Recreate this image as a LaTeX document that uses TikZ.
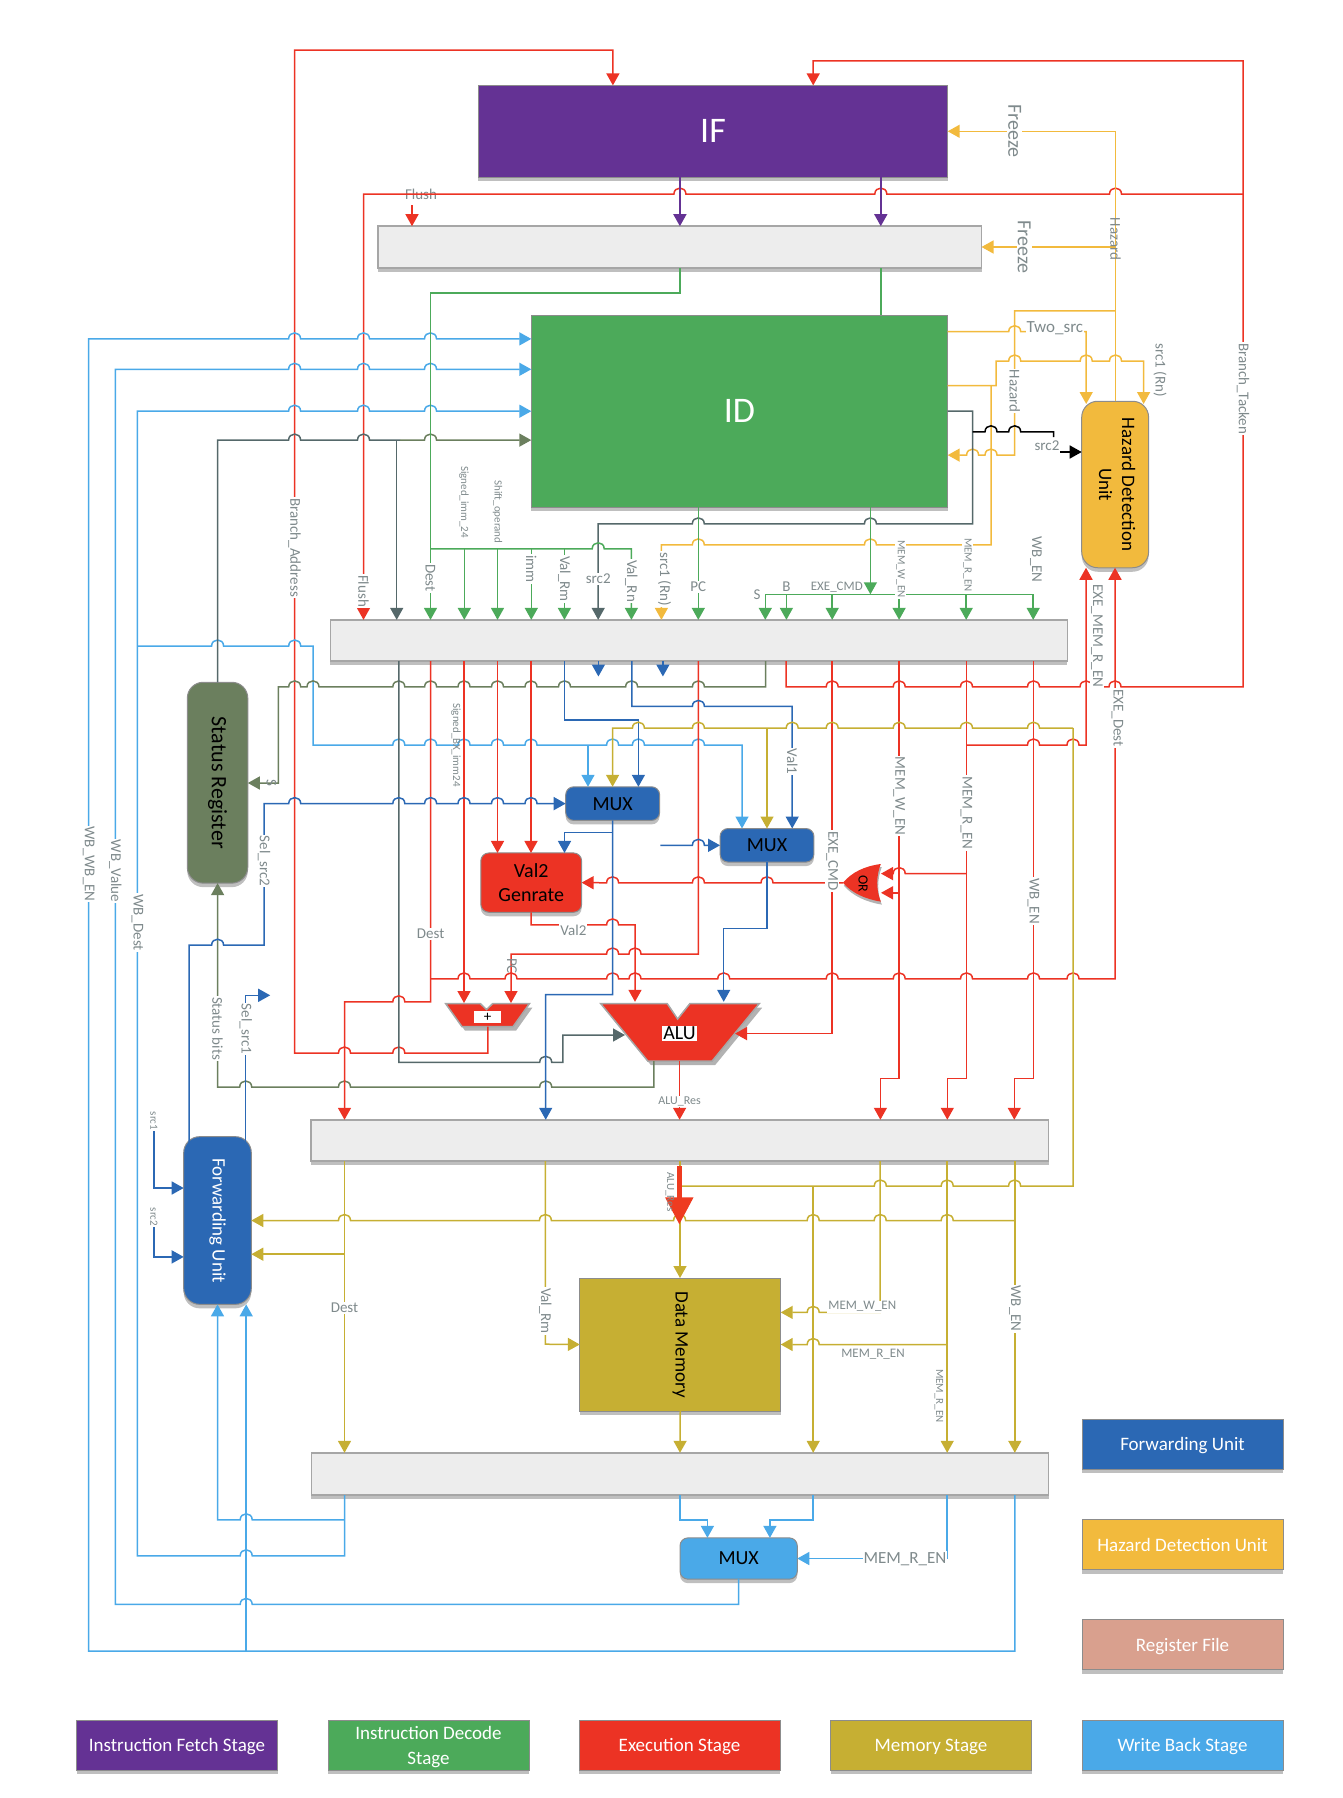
\documentclass[tikz,border=0pt]{standalone}
\usepackage{fontspec}
\setmainfont{Carlito}
\usetikzlibrary{arrows.meta, shadows, positioning}
\definecolor{cpurple}{HTML}{643294}
\definecolor{cgreen}{HTML}{4CAA5A}
\definecolor{cred}{HTML}{EC3324}
\definecolor{cgold}{HTML}{C6AF33}
\definecolor{clight}{HTML}{4AA9E8}
\definecolor{cblue}{HTML}{2B68B4}
\definecolor{camber}{HTML}{F2BA3D}
\definecolor{csage}{HTML}{6B7F5E}
\definecolor{cdark}{HTML}{55686A}
\definecolor{csalmon}{HTML}{D9A08E}
\definecolor{clab}{HTML}{7F8A8C}
% a hop of a horizontal wire over a vertical one
\newcommand{\hopr}[2]{\foreach \h in {#2} { -- (\h-6,#1) .. controls (\h-6,#1-8) and (\h+6,#1-8) .. (\h+6,#1) }}
\newcommand{\hopl}[2]{\foreach \h in {#2} { -- (\h+6,#1) .. controls (\h+6,#1-8) and (\h-6,#1-8) .. (\h-6,#1) }}
\newcommand{\rot}[1]{\rotatebox{-90}{#1}}
\tikzset{
  shade3/.style={drop shadow={shadow xshift=0pt,shadow yshift=-4pt,opacity=.25,fill=black}},
  unit/.style={shape=rectangle, inner sep=0pt, outer sep=0pt, line width=1pt, draw=black!45, shade3},
  pipe/.style={unit, fill=black!7, draw=black!35, line width=1.5pt},
  pill/.style={unit, rounded corners=16pt, font=\fontsize{19}{23}\selectfont},
  muxbox/.style={unit, rounded corners=8pt, fill=cblue, text depth=0pt, font=\fontsize{20}{24}\selectfont},
  legend/.style={unit, minimum width=201pt, minimum height=50pt, text=white, align=center, text depth=0pt, font=\fontsize{19}{25}\selectfont},
  lab/.style={fill=white, inner sep=1pt, text=clab, font=\fontsize{15}{17}\selectfont},
  tiny/.style={lab, font=\fontsize{11}{13}\selectfont},
  free/.style={fill=none},
  wire/.style={line width=1.5pt},
  wred/.style={wire, cred},
  wgold/.style={wire, cgold},
  wlight/.style={wire, clight},
  wblue/.style={wire, cblue},
  wamber/.style={wire, camber},
  wsage/.style={wire, csage},
  wdark/.style={wire, cdark},
  wgreen/.style={wire, cgreen},
  wpurple/.style={wire, cpurple},
  trap/.style={fill=cred, draw=black!35, line width=1.5pt, drop shadow={shadow xshift=3pt,shadow yshift=-4pt,opacity=.3,fill=black}},
}
\begin{document}
\begin{tikzpicture}[x=1pt, y=-1pt, >={Triangle[length=12pt,width=13pt]}]
\useasboundingbox (0,0) rectangle (1342,1798);
% stages
\node[unit, fill=cpurple, minimum width=469.4pt, minimum height=92pt, text=white, font=\fontsize{36}{40}\selectfont] (ifbox) at (713,131.4) {IF};
\node[pipe, minimum width=603.3pt, minimum height=41.9pt] (ifid) at (679.85,247.15) {};
\node[unit, fill=cgreen, minimum width=416.4pt, minimum height=192.2pt, text=white, font=\fontsize{36}{40}\selectfont] (idbox) at (739.5,411.2) {ID};
\node[pipe, minimum width=737pt, minimum height=41.3pt] (idex) at (698.75,640.5) {};
\node[pipe, minimum width=737.6pt, minimum height=41.3pt] (exmem) at (679.8,1140.4) {};
\node[pipe, minimum width=737.3pt, minimum height=42.2pt] (memwb) at (680,1473.9) {};
\node[pill, fill=camber, minimum width=66.9pt, minimum height=166.5pt] (hdu) at (1115.15,484.5) {\rot{\begin{tabular}{c}Hazard Detection\\Unit\end{tabular}}};
\node[pill, fill=csage, minimum width=60.5pt, minimum height=200.9pt, font=\fontsize{22}{26}\selectfont] (sr) at (217.55,782.7) {\rot{Status Register}};
\node[pill, fill=cblue, text=white, minimum width=67.6pt, minimum height=167.7pt] (fu) at (217.5,1220.5) {\rot{Forwarding Unit}};
\node[muxbox, minimum width=93.9pt, minimum height=33.6pt] (mux1) at (612.65,803.6) {MUX};
\node[muxbox, minimum width=93.9pt, minimum height=33.6pt] (mux2) at (767,845.3) {MUX};
\node[muxbox, fill=cred, minimum width=100.8pt, minimum height=59.3pt, align=center] (val2) at (531.2,882.6) {Val2\\Genrate};
\node[unit, fill=cgold, minimum width=200.9pt, minimum height=133pt, font=\fontsize{19}{22}\selectfont] (dm) at (680.25,1344.5) {\rot{Data Memory}};
\node[muxbox, fill=clight, minimum width=117.3pt, minimum height=41.3pt] (mux3) at (738.65,1558.5) {MUX};
% ALU, adder, OR
\draw[trap] (600.8,1003.7) -- (667.3,1003.7) -- (677.6,1019) -- (689.8,1003.7) -- (759.2,1003.7) -- (712.2,1061) -- (647.8,1061) -- cycle;
\node[fill=white, inner sep=1pt, font=\fontsize{20}{22}\selectfont] (alubox) at (679.6,1033.6) {ALU};
\draw[trap] (445.7,1003.7) -- (480.4,1003.7) -- (486.5,1009.5) -- (492.6,1003.7) -- (529.4,1003.7) -- (513,1026.7) -- (462,1026.7) -- cycle;
\node[fill=white, inner sep=0pt, minimum width=27pt, minimum height=12pt, font=\fontsize{15}{15}\selectfont] (addbox) at (487.7,1017) {+};
\fill[cred, drop shadow={shadow xshift=1pt,shadow yshift=-3pt,opacity=.3,fill=black}] (842.9,882.8) .. controls (852,872) and (865,866) .. (880.8,864) .. controls (876,876) and (876,890) .. (880.8,901.6) .. controls (865,899) and (852,893) .. (842.9,882.8) -- cycle;
\node[inner sep=0pt, font=\fontsize{14}{14}\selectfont] (orbox) at (863,883.5) {\rot{OR}};
\coordinate (alul) at (625,1035);
\coordinate (alur) at (735,1033.6);
\coordinate (addl) at (464,1003);
\coordinate (addr) at (511,1003);
\coordinate (addout) at (487.8,1026.7);
\coordinate (orapex) at (842.9,882.8);
% legend
\node[legend, fill=cblue] (lfu) at (1182.5,1444.3) {Forwarding Unit};
\node[legend, fill=camber] (lhdu) at (1182.5,1544.5) {Hazard Detection Unit};
\node[legend, fill=csalmon] (lrf) at (1182.5,1644.5) {Register File};
\node[legend, fill=cpurple] (lif) at (177,1745) {Instruction Fetch Stage};
\node[legend, fill=cgreen] (lid) at (428.5,1745) {Instruction Decode\\Stage};
\node[legend, fill=cred] (lex) at (679.5,1745) {Execution Stage};
\node[legend, fill=cgold] (lmem) at (931,1745) {Memory Stage};
\node[legend, fill=clight] (lwb) at (1182.5,1745) {Write Back Stage};
% labels that sit on wires
\node[lab] (flushlab) at (421,194) {Flush};
\node[tiny, free] (src1lab) at (153.8,1121) {\rot{src1}};
\node[tiny, free] (src2lab) at (153.8,1217) {\rot{src2}};
% fetch and hazard wires
\draw[wred,->] (addout) -- (487.8,1053) \hopl{1053}{398.8,344.5} -- (294.6,1053) -- (294.6,50.2) -- (612.9,50.2) -- (612.9,0 |- ifbox.north);
\draw[wred,->] (786.1,0 |- idex.south) -- (786.1,686.9) \hopr{686.9}{832.2,899.2,966.5,1033.5,1086,1115} -- (1243,686.9) -- (1243,60.9) -- (813.2,60.9) -- (813.2,0 |- ifbox.north);
\draw[wred,->] (1243,194.1) \hopl{194.1}{1115.5,880.8,679.9} -- (363.5,194.1) -- (363.5,0 |- idex.north);
\draw[wred,->] (412,0 |- flushlab.south) ++(0,5) -- (412,0 |- ifid.north);
\draw[wpurple,->] (679.9,0 |- ifbox.south) -- (679.9,0 |- ifid.north);
\draw[wpurple,->] (880.8,0 |- ifbox.south) -- (880.8,0 |- ifid.north);
\draw[wamber,->] (1115.5,0 |- hdu.north) -- (1115.5,131.3) -- (ifbox.east |- 0,131.3);
\draw[wamber,->] (1115.5,247) -- (ifid.east |- 0,247);
\draw[wamber,->] (1115.5,310.8) -- (1014.7,310.8) -- (1014.7,455.1) \hopl{455.1}{991,972.6} -- (idbox.east |- 0,455.1);
\draw[wamber,->] (idbox.east |- 0,331.7) \hopr{331.7}{1014.7} -- (1086.2,331.7) -- (1086.2,404);
\draw[wamber,->] (idbox.east |- 0,385.5) -- (996.2,385.5) -- (996.2,361) \hopr{361}{1014.7,1086.2,1115.5} -- (1143.6,361) -- (1143.6,404);
\draw[wamber,->] (991,385.5) -- (991,544.9) \hopl{544.9}{870.4,698.3} -- (661.4,544.9) -- (661.4,0 |- idex.north);
\draw[wdark,->] (idbox.east |- 0,411) -- (972.6,411) -- (972.6,523.9) \hopl{523.9}{870.4,698.3} -- (598.2,523.9) -- (598.2,0 |- idex.north);
\draw[wire, black] (972.6,431.8) \hopr{431.8}{991,1014.7} -- (1053.6,431.8) -- (1053.6,437);
\draw[wire, black,->] (1060,452) -- (hdu.west |- 0,452);
% write back wires
\draw[wlight,->] (1014.8,0 |- memwb.south) -- (1014.8,1651) -- (88.7,1651) -- (88.7,338.9) \hopr{338.9}{294.6,363.5,430.5} -- (idbox.west |- 0,338.9);
\draw[wlight,->] (246.2,1651) -- (246.2,0 |- fu.south);
\draw[wlight,->] (mux3.south) -- (738.6,1604.4) \hopl{1604.4}{246.2} -- (115.4,1604.4) -- (115.4,369.3) \hopr{369.3}{294.6,363.5,430.5} -- (idbox.west |- 0,369.3);
\draw[wlight,->] (344.5,0 |- memwb.south) -- (344.5,1555.8) \hopl{1555.8}{246.2} -- (137.4,1555.8) -- (137.4,411.2) \hopr{411.2}{294.6,363.5,430.5} -- (idbox.west |- 0,411.2);
\draw[wlight,->] (344.5,1519.8) \hopl{1519.8}{246.2} -- (217.5,1519.8) -- (217.5,0 |- fu.south);
\draw[wlight,->] (137.4,646) \hopr{646}{217.6,294.7} -- (313,646) -- (313,745) \hopr{745}{398.8,430.6,464,497.5,531,612.6,638.4,698.4} -- (742,745) -- (742,0 |- mux2.north);
\draw[wlight,->] (588,745) -- (588,0 |- mux1.north);
\draw[wlight,->] (680,0 |- memwb.south) -- (680,1519.8) -- (707.4,1519.8) -- (707.4,0 |- mux3.north);
\draw[wlight,->] (813.2,0 |- memwb.south) -- (813.2,1519.8) -- (769.9,1519.8) -- (769.9,0 |- mux3.north);
\draw[wlight,->] (947.2,0 |- memwb.south) -- (947.2,1558.5) -- (mux3.east);
% status register
\draw[wdark] (sr.north) -- (217.6,440.1) \hopr{440.1}{294.6,363.5} -- (400,440.1);
\draw[wsage,->] (400,440.1) \hopr{440.1}{430.5} -- (idbox.west |- 0,440.1);
\draw[wdark,->] (396.7,440.1) -- (396.7,0 |- idex.north);
\draw[wsage,->] (765.7,0 |- idex.south) -- (765.7,686.9) \hopl{686.9}{698.4,631.6,564.5,531,497.5,464,430.6,398.8,313,294.7} -- (278.4,686.9) -- (278.4,783) -- (sr.east |- 0,783);
\draw[wsage,->] (653.9,1061) -- (653.9,1087) \hopl{1087}{545.7,344.5,245.7} -- (217.6,1087) -- (217.6,0 |- sr.south);
% decode wires
\draw[wgreen,->] (679.9,0 |- ifid.south) -- (679.9,293) -- (430.5,293) -- (430.5,0 |- idex.north);
\draw[wgreen] (880.8,0 |- ifid.south) -- (880.8,0 |- idbox.north);
\draw[wgreen,->] (430.5,548.8) \hopr{548.8}{598.2} -- (631.4,548.8) -- (631.4,0 |- idex.north);
\foreach \x in {464.3,497.5,531.3,564.4}
  \draw[wgreen,->] (\x,548.8) -- (\x,0 |- idex.north);
\draw[wgreen,->] (698.3,0 |- idbox.south) -- (698.3,0 |- idex.north);
\draw[wgreen,->] (870.4,0 |- idbox.south) -- (870.4,594.3);
\draw[wgreen] (765.3,594.3) -- (1033.2,594.3);
\foreach \x in {765.3,786.4,832.2,899.1,966.2,1033.2}
  \draw[wgreen,->] (\x,594.3) -- (\x,0 |- idex.north);
% execute wires
\draw[wdark,->] (398.8,0 |- idex.south) -- (398.8,1062.3) \hopr{1062.3}{545.7} -- (562.9,1062.3) -- (562.9,1035) -- (alul);
\draw[wred,->] (430.6,0 |- idex.south) -- (430.6,1001.8) \hopl{1001.8}{398.8} -- (344.5,1001.8) -- (344.5,0 |- exmem.north);
\draw[wred,->] (430.6,978.9) \hopr{978.9}{464,511,612.6,635,723.7,832.2,899.2,966.5,1033.5,1073} -- (1115,978.9) -- (1115,0 |- hdu.south);
\draw[wred,->] (464,0 |- idex.south) -- (addl);
\draw[wred,->] (698.4,0 |- idex.south) -- (698.4,954) \hopl{954}{635,612.6} -- (511,954) -- (addr);
\draw[wred,->] (497.5,0 |- idex.south) -- (497.5,0 |- val2.north);
\draw[wred,->] (531,0 |- idex.south) -- (531,0 |- val2.north);
\draw[wblue,->] (564.5,0 |- idex.south) -- (564.5,720.2) -- (638.4,720.2) -- (638.4,0 |- mux1.north);
\draw[wblue,->] (631.8,0 |- idex.south) -- (631.8,706.4) \hopr{706.4}{698.4} -- (792.2,706.4) -- (792.2,0 |- mux2.north);
\draw[wblue,->] (598.4,0 |- idex.south) -- (598.4,676.5);
\draw[wblue,->] (662.9,0 |- idex.south) -- (662.9,676.5);
\draw[wred,->] (832.2,0 |- idex.south) -- (832.2,1033.6) -- (alur);
\draw[wred,->] (899.2,0 |- idex.south) -- (899.2,1078.4) -- (880.4,1078.4) -- (880.4,0 |- exmem.north);
\draw[wred,->] (899.2,892.8) -- (881,892.8);
\draw[wred,->] (966.5,0 |- idex.south) -- (966.5,1078.4) -- (947.3,1078.4) -- (947.3,0 |- exmem.north);
\draw[wred,->] (966.5,873.6) \hopl{873.6}{899.2} -- (881,873.6);
\draw[wred,->] (966.5,745) \hopr{745}{1033.5,1073} -- (1086,745) -- (1086,0 |- hdu.south);
\draw[wred,->] (1033.5,0 |- idex.south) -- (1033.5,1078.4) -- (1014.3,1078.4) -- (1014.3,0 |- exmem.north);
\draw[wred,->] (orapex) \hopl{882.8}{832.2,767,698.4,612.6} -- (val2.east);
\draw[wgold] (680,1186) \hopr{1186}{880.3,947.2,1014.6} -- (1073,1186) -- (1073,728.2);
\draw[wgold,->] (1073,728.2) \hopl{728.2}{1033.5,966.5,899.2,832.2,792.2,698.4,638.4} -- (612.6,728.2) -- (612.6,0 |- mux1.north);
\draw[wgold,->] (767,728.2) -- (767,0 |- mux2.north);
\draw[wblue,->] (mux1.south) -- (612.6,994.6) -- (545.7,994.6) -- (545.7,0 |- exmem.north);
\draw[wblue,->] (612.6,832.7) -- (564.5,832.7) -- (564.5,0 |- val2.north);
\draw[wblue,->] (189,1146) -- (189,945.2) \hopr{945.2}{217.6} -- (264.1,945.2) -- (264.1,803.6) \hopr{803.6}{294.7,398.8,430.6,464,497.5,531} -- (mux1.west);
\draw[wblue,->] (245.7,1146) -- (245.7,995.3) -- (270.2,995.3);
\draw[wblue,->] (660.4,845.3) \hopr{845.3}{698.4} -- (mux2.west);
\draw[wblue,->] (mux2.south) -- (767,928.3) -- (723.7,928.3) -- (723.7,1001.8);
\draw[wred,->] (val2.south) -- (531.2,924.9) \hopr{924.9}{612.6} -- (635,924.9) -- (635,1001.8);
\draw[wred,->] (679.6,1061) -- (679.6,0 |- exmem.north);
\draw[wblue,->] (src1lab.south) -- (153.8,1188) -- (fu.west |- 0,1188);
\draw[wblue,->] (src2lab.south) -- (153.8,1256.9) -- (fu.west |- 0,1256.9);
% memory wires
\draw[wgold,->] (344.5,0 |- exmem.south) -- (344.5,0 |- memwb.north);
\draw[wgold,->] (344.5,1254.2) -- (fu.east |- 0,1254.2);
\draw[wgold,->] (1014.8,1220.5) \hopl{1220.5}{947.2,880.2,813.2,679.6,545.4,344.5} -- (fu.east |- 0,1220.5);
\draw[wgold,->] (545.4,0 |- exmem.south) -- (545.4,1344.2) -- (dm.west);
\draw[wgold,->] (680,0 |- exmem.south) -- (680,0 |- dm.north);
\draw[wgold,->] (813.2,1186) -- (813.2,0 |- memwb.north);
\draw[wgold,->] (880.2,0 |- exmem.south) -- (880.2,1312.4) \hopl{1312.4}{813.2} -- (dm.east |- 0,1312.4);
\draw[wgold,->] (947.2,0 |- exmem.south) -- (947.2,0 |- memwb.north);
\draw[wgold,->] (947.2,1344.5) \hopl{1344.5}{813.2} -- (dm.east);
\draw[wgold,->] (1014.8,0 |- exmem.south) -- (1014.8,0 |- memwb.north);
\draw[wgold,->] (dm.south) -- (680,0 |- memwb.north);
\draw[cred!90!orange, line width=5pt, -{Triangle[length=27pt,width=27pt]}] (679.3,1165.8) -- (679.3,1224.4);
% labels
\node[lab, font=\fontsize{20}{22}\selectfont] (fr1) at (1014.7,131) {\rot{Freeze}};
\node[lab, font=\fontsize{20}{22}\selectfont] (fr2) at (1024.3,247) {\rot{Freeze}};
\node[lab, free] (hz1) at (1115.5,239) {\rot{Hazard}};
\node[lab] (hz2) at (1014.7,391) {\rot{Hazard}};
\node[lab, font=\fontsize{17}{19}\selectfont] (tws) at (1054.9,328) {Two\_src};
\node[lab, free] (sr1a) at (1160,370) {\rot{src1 (Rn)}};
\node[lab] (sr2b) at (1047,446) {src2};
\node[lab] (bta) at (1243,388.7) {\rot{Branch\_Tacken}};
\node[lab] (bad) at (294.6,547.6) {\rot{Branch\_Address}};
\node[tiny, free] (sig) at (464,502) {\rot{Signed\_imm\_24}};
\node[tiny, free] (shf) at (497.5,512) {\rot{Shift\_operand}};
\node[lab] (flb) at (363.5,591) {\rot{Flush}};
\node[lab] (dsl) at (430.5,578) {\rot{Dest}};
\node[lab] (iml) at (531.3,569) {\rot{imm}};
\node[lab] (vrm) at (564.4,579) {\rot{Val\_Rm}};
\node[lab] (s2l) at (598.2,579) {src2};
\node[lab] (vrn) at (631.4,581) {\rot{Val\_Rn}};
\node[lab] (s1l) at (664.6,579) {\rot{src1 (Rn)}};
\node[lab] (pcl) at (698.3,587) {PC};
\node[lab, free] (sl) at (757,595) {S};
\node[lab, free] (bl) at (786.4,587) {B};
\node[tiny, free, font=\fontsize{13}{15}\selectfont] (ecl) at (836.8,587.6) {EXE\_CMD};
\node[tiny] (mwl) at (900.6,569) {\rot{MEM\_W\_EN}};
\node[tiny] (mrl) at (967.5,565) {\rot{MEM\_R\_EN}};
\node[lab, free] (wbl) at (1035.8,559.5) {\rot{WB\_EN}};
\node[lab] (eml) at (1097,636) {\rot{EXE\_MEM\_R\_EN}};
\node[lab] (edl) at (1117.5,718) {\rot{EXE\_Dest}};
\node[lab, free] (sla) at (271.4,783) {\rot{S}};
\node[lab] (ss2) at (264.1,861) {\rot{Sel\_src2}};
\node[tiny, free] (bxl) at (456,745) {\rot{Signed\_BX\_imm24}};
\node[lab] (val1) at (792.2,761.5) {\rot{Val1}};
\node[lab] (d2l) at (430.6,933.7) {Dest};
\node[lab] (v2l) at (573.4,930) {Val2};
\node[lab, free] (pc2) at (512,966) {\rot{PC}};
\node[lab] (ecm) at (832.2,861) {\rot{EXE\_CMD}};
\node[lab] (mw2) at (899.2,796) {\rot{MEM\_W\_EN}};
\node[lab] (mr2) at (966.5,813) {\rot{MEM\_R\_EN}};
\node[lab] (wb2) at (1033.5,901) {\rot{WB\_EN}};
\node[lab] (stb) at (217.6,1028.6) {\rot{Status bits}};
\node[lab] (ss1) at (245.7,1029) {\rot{Sel\_src1}};
\node[tiny, font=\fontsize{12}{14}\selectfont] (alr) at (679.6,1101.3) {ALU\_Res};
\node[tiny, free] (al2) at (670,1192) {\rot{ALU\_Res}};
\node[lab] (d3l) at (344.5,1307.8) {Dest};
\node[lab] (vr2) at (545.4,1311) {\rot{Val\_Rm}};
\node[tiny, font=\fontsize{13}{15}\selectfont] (mw3) at (862.3,1306.6) {MEM\_W\_EN};
\node[tiny, free, font=\fontsize{13}{15}\selectfont] (mr3) at (873,1354.5) {MEM\_R\_EN};
\node[tiny, free] (mr4) at (939,1395.8) {\rot{MEM\_R\_EN}};
\node[lab] (wb3) at (1014.8,1308.6) {\rot{WB\_EN}};
\node[lab, font=\fontsize{17}{19}\selectfont] (mr5) at (905,1559) {MEM\_R\_EN};
\node[lab] (wwe) at (88.7,864) {\rot{WB\_WB\_EN}};
\node[lab] (wvl) at (115.4,871) {\rot{WB\_Value}};
\node[lab] (wdl) at (137.4,922.6) {\rot{WB\_Dest}};
\end{tikzpicture}
\end{document}
